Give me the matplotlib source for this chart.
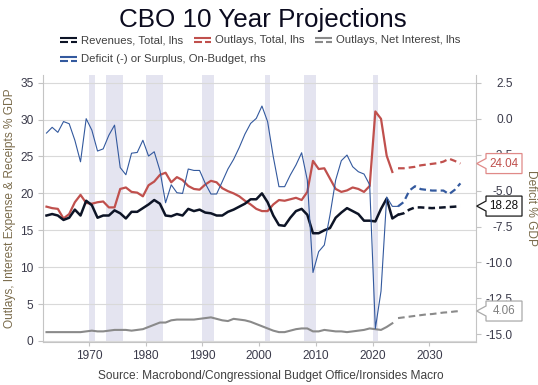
import matplotlib
matplotlib.use('Agg')
import matplotlib.pyplot as plt
from matplotlib.lines import Line2D
from matplotlib.patches import Polygon

plt.rcParams['font.family'] = ['Liberation Sans', 'DejaVu Sans']

W, H, DPI = 538, 385, 100

# ---------------- data ----------------
years_hist = list(range(1962, 2025))          # revenues & on-budget deficit actuals
years_hist_b = list(range(1962, 2024))        # outlays & net interest actuals
years_proj = list(range(2024, 2036))          # projections

revenues_hist = [17.0, 17.2, 17.0, 16.4, 16.7, 17.8, 17.0, 19.0, 18.4, 16.7,
                 17.0, 17.0, 17.7, 17.3, 16.6, 17.5, 17.5, 18.0, 18.5, 19.1,
                 18.6, 17.0, 16.9, 17.2, 17.0, 17.9, 17.6, 17.8, 17.4, 17.3,
                 17.0, 17.0, 17.5, 17.8, 18.2, 18.6, 19.2, 19.2, 20.0, 18.8,
                 17.0, 15.7, 15.6, 16.7, 17.6, 17.9, 17.1, 14.6, 14.6, 15.0,
                 15.3, 16.7, 17.4, 18.0, 17.6, 17.2, 16.3, 16.3, 16.2, 17.9,
                 19.3, 16.6, 17.1]
outlays_hist = [18.2, 18.0, 17.9, 16.6, 17.2, 18.8, 19.8, 18.7, 18.6, 18.8,
                18.9, 18.1, 18.1, 20.6, 20.8, 20.2, 20.1, 19.6, 21.1, 21.6,
                22.5, 22.8, 21.5, 22.2, 21.8, 21.0, 20.6, 20.5, 21.2, 21.7,
                21.5, 20.7, 20.3, 20.0, 19.6, 19.0, 18.5, 17.9, 17.6, 17.6,
                18.5, 19.1, 19.0, 19.2, 19.4, 19.1, 20.2, 24.4, 23.3, 23.4,
                22.0, 20.6, 20.2, 20.4, 20.8, 20.6, 20.2, 21.0, 31.1, 30.1,
                25.1, 22.9]
interest_hist = [1.2, 1.2, 1.2, 1.2, 1.2, 1.2, 1.2, 1.3, 1.4, 1.3,
                 1.3, 1.4, 1.5, 1.5, 1.5, 1.4, 1.5, 1.6, 1.9, 2.2,
                 2.5, 2.5, 2.8, 2.9, 2.9, 2.9, 2.9, 3.0, 3.1, 3.2,
                 3.0, 2.8, 2.7, 3.0, 2.9, 2.8, 2.6, 2.3, 2.0, 1.7,
                 1.4, 1.2, 1.2, 1.4, 1.6, 1.7, 1.7, 1.3, 1.3, 1.5,
                 1.4, 1.3, 1.3, 1.2, 1.3, 1.4, 1.5, 1.7, 1.6, 1.5,
                 1.9, 2.4]
deficit_hist = [-1.0, -0.6, -0.95, -0.2, -0.35, -1.5, -3.0, 0.0, -0.8, -2.25,
                -2.1, -1.15, -0.45, -3.4, -3.9, -2.4, -2.35, -1.5, -2.6, -2.3,
                -3.6, -5.85, -4.6, -5.15, -5.2, -3.5, -3.6, -3.6, -4.5, -5.24,
                -5.24, -4.38, -3.5, -2.83, -2.0, -1.07, -0.33, 0.02, 0.88, -0.21,
                -2.65, -4.73, -4.73, -3.92, -3.22, -2.37, -4.27, -10.7, -9.25, -8.79,
                -6.7, -4.27, -2.92, -2.53, -3.34, -3.69, -3.85, -4.6, -14.6, -12.0,
                -5.45, -6.1, -6.1]

revenues_proj = [17.1, 17.3, 17.8, 18.1, 18.1, 18.05, 18.0, 18.05, 18.1, 18.15, 18.2, 18.28]
outlays_proj = [23.4, 23.4, 23.5, 23.6, 23.8, 23.9, 24.0, 24.1, 24.3, 24.7, 24.4, 24.04]
interest_proj = [3.1, 3.2, 3.3, 3.4, 3.5, 3.6, 3.65, 3.75, 3.85, 3.9, 4.0, 4.06]
deficit_proj = [-6.1, -5.8, -5.0, -4.7, -4.9, -4.95, -5.0, -5.0, -5.0, -5.25, -4.95, -4.5]

recession_start = [1970, 1973, 1980, 1990, 2001, 2008, 2020]
recession_end = [1971, 1976, 1983, 1992, 2002, 2010, 2021]

x_ticks = [1970, 1980, 1990, 2000, 2010, 2020, 2030]
left_ticks = [0, 5, 10, 15, 20, 25, 30, 35]
right_ticks = [2.5, 0.0, -2.5, -5.0, -7.5, -10.0, -12.5, -15.0]

title = 'CBO 10 Year Projections'
legend_labels = ['Revenues, Total, lhs', 'Outlays, Total, lhs',
                 'Outlays, Net Interest, lhs', 'Deficit (-) or Surplus, On-Budget, rhs']
left_label = 'Outlays, Interest Expense & Receipts % GDP'
right_label = 'Deficit % GDP'
source = 'Source: Macrobond/Congressional Budget Office/Ironsides Macro'

# ---------------- style ----------------
C_BLACK = '#0d1426'
C_RED = '#c0504d'
C_GRAY = '#8a8a8a'
C_BLUE = '#33599e'
C_SHADE = '#e4e4f0'
C_GRID = '#d9d9d9'
C_SPINE = '#c4c4c4'
C_TICK = '#3a3a4a'
C_AXLAB = '#7a6b4b'
C_TEXT = '#404040'

def dash(lw):
    return (0, (4.8 / lw, 2.9 / lw))

fig = plt.figure(figsize=(W / DPI, H / DPI), dpi=DPI, facecolor='white')
L, R, T, B = 42.7, 475.7, 74.7, 341.5
ax = fig.add_axes([L / W, 1 - B / H, (R - L) / W, (B - T) / H])
ax2 = ax.twinx()

xh = [y + 0.5 for y in years_hist]
xhb = [y + 0.5 for y in years_hist_b]
xp = [y + 0.5 for y in years_proj]

for s, e in zip(recession_start, recession_end):
    ax.axvspan(s, e, color=C_SHADE, lw=0, zorder=0.2)

ax.plot(xhb, interest_hist, color=C_GRAY, lw=1.5, zorder=3)
ax.plot(xp, interest_proj, color=C_GRAY, lw=1.5, ls=dash(1.5), zorder=3)
ax.plot(xhb, outlays_hist, color=C_RED, lw=1.6, zorder=3)
ax.plot(xp, outlays_proj, color=C_RED, lw=1.6, ls=dash(1.6), zorder=3)
ax.plot(xh, revenues_hist, color=C_BLACK, lw=1.8, zorder=4)
ax.plot(xp, revenues_proj, color=C_BLACK, lw=1.8, ls=dash(1.8), zorder=4)
ax2.plot(xh, deficit_hist, color=C_BLUE, lw=0.8, zorder=3)
ax2.plot(xp, deficit_proj, color=C_BLUE, lw=1.6, ls=dash(1.6), zorder=3)

ax.set_xlim(1961.83, 2038.2)
ax.set_ylim(-0.07, 36.08)
ax2.set_ylim(-15.5, 3.06)

ax.set_xticks(x_ticks)
ax.set_yticks(left_ticks)
ax2.set_yticks(right_ticks)
ax2.set_yticklabels([f'{v:.1f}' for v in right_ticks])

ax.yaxis.grid(True, color=C_GRID, lw=0.8)
ax.set_axisbelow(True)

for a in (ax, ax2):
    for sp in a.spines.values():
        sp.set_color(C_SPINE)
        sp.set_linewidth(0.8)
    a.spines['top'].set_visible(False)
ax.spines['right'].set_visible(False)
ax2.spines['left'].set_visible(False)
ax2.spines['bottom'].set_visible(False)

ax.tick_params(axis='y', length=3.4, width=0.8, color=C_SPINE, labelsize=8.6,
               labelcolor=C_TICK, pad=3.2)
ax.tick_params(axis='x', length=3.0, width=0.8, color=C_SPINE, labelsize=8.6,
               labelcolor=C_TICK, pad=3.3)
ax2.tick_params(axis='y', length=3.6, width=0.8, color=C_SPINE, labelsize=8.6,
                labelcolor=C_TICK, pad=23.0)
plt.setp(ax2.get_yticklabels(), ha='right')

def fx(x):
    return x / W

def fy(y):
    return 1 - y / H

# title
fig.text(fx(262.5), fy(27.3), title, ha='center', va='baseline', fontsize=18.75,
         color='#0b0b1f')

# legend (manual)
leg_items = [(60, 40.2, C_BLACK, legend_labels[0]),
             (194, 40.2, C_RED, legend_labels[1]),
             (315, 40.2, C_GRAY, legend_labels[2]),
             (60, 58.5, C_BLUE, legend_labels[3])]
for x0, yc, col, lab in leg_items:
    fig.add_artist(Line2D([fx(x0), fx(x0 + 17)], [fy(yc - 2), fy(yc - 2)],
                          color=col, lw=1.5, solid_capstyle='butt'))
    fig.add_artist(Line2D([fx(x0), fx(x0 + 7.5)], [fy(yc + 2), fy(yc + 2)],
                          color=col, lw=1.5, solid_capstyle='butt'))
    fig.add_artist(Line2D([fx(x0 + 10.5), fx(x0 + 17)], [fy(yc + 2), fy(yc + 2)],
                          color=col, lw=1.5, solid_capstyle='butt'))
    fig.text(fx(x0 + 21), fy(yc), lab, ha='left', va='center', fontsize=8.2,
             color=C_TEXT)

# axis labels
fig.text(fx(10), fy((T + B) / 2), left_label, rotation=90, ha='center', va='center',
         fontsize=8.6, color=C_AXLAB)
fig.text(fx(530.5), fy((T + B) / 2), right_label, rotation=270, ha='center',
         va='center', fontsize=8.6, color=C_AXLAB)

# source
fig.text(fx(271), fy(378.7), source, ha='center', va='baseline', fontsize=8.6,
         color=C_TEXT)

# callouts for final projected values
callouts = [(ax, outlays_proj[-1], '#e08a88', C_RED),
            (ax, revenues_proj[-1], '#1a1a1a', '#101010'),
            (ax, interest_proj[-1], '#aaaaaa', '#808080')]
for a, val, edge, tcol in callouts:
    yd = a.transData.transform((2000, val))[1]
    yp = H - yd
    tip = 476.7
    bl, br, hh, ph = 486.0, 522.0, 10.0, 5.0
    verts = [(tip, yp), (bl, yp - ph), (bl, yp - hh), (br, yp - hh), (br, yp + hh),
             (bl, yp + hh), (bl, yp + ph)]
    poly = Polygon([(fx(vx), fy(vy)) for vx, vy in verts], closed=True,
                   transform=fig.transFigure, facecolor='white', edgecolor=edge,
                   lw=0.9, zorder=5)
    fig.add_artist(poly)
    fig.text(fx((bl + br) / 2), fy(yp), f'{val:.2f}', ha='center', va='center',
             fontsize=8.4, color=tcol, zorder=6)

fig.savefig('out.png', dpi=DPI, facecolor='white')
